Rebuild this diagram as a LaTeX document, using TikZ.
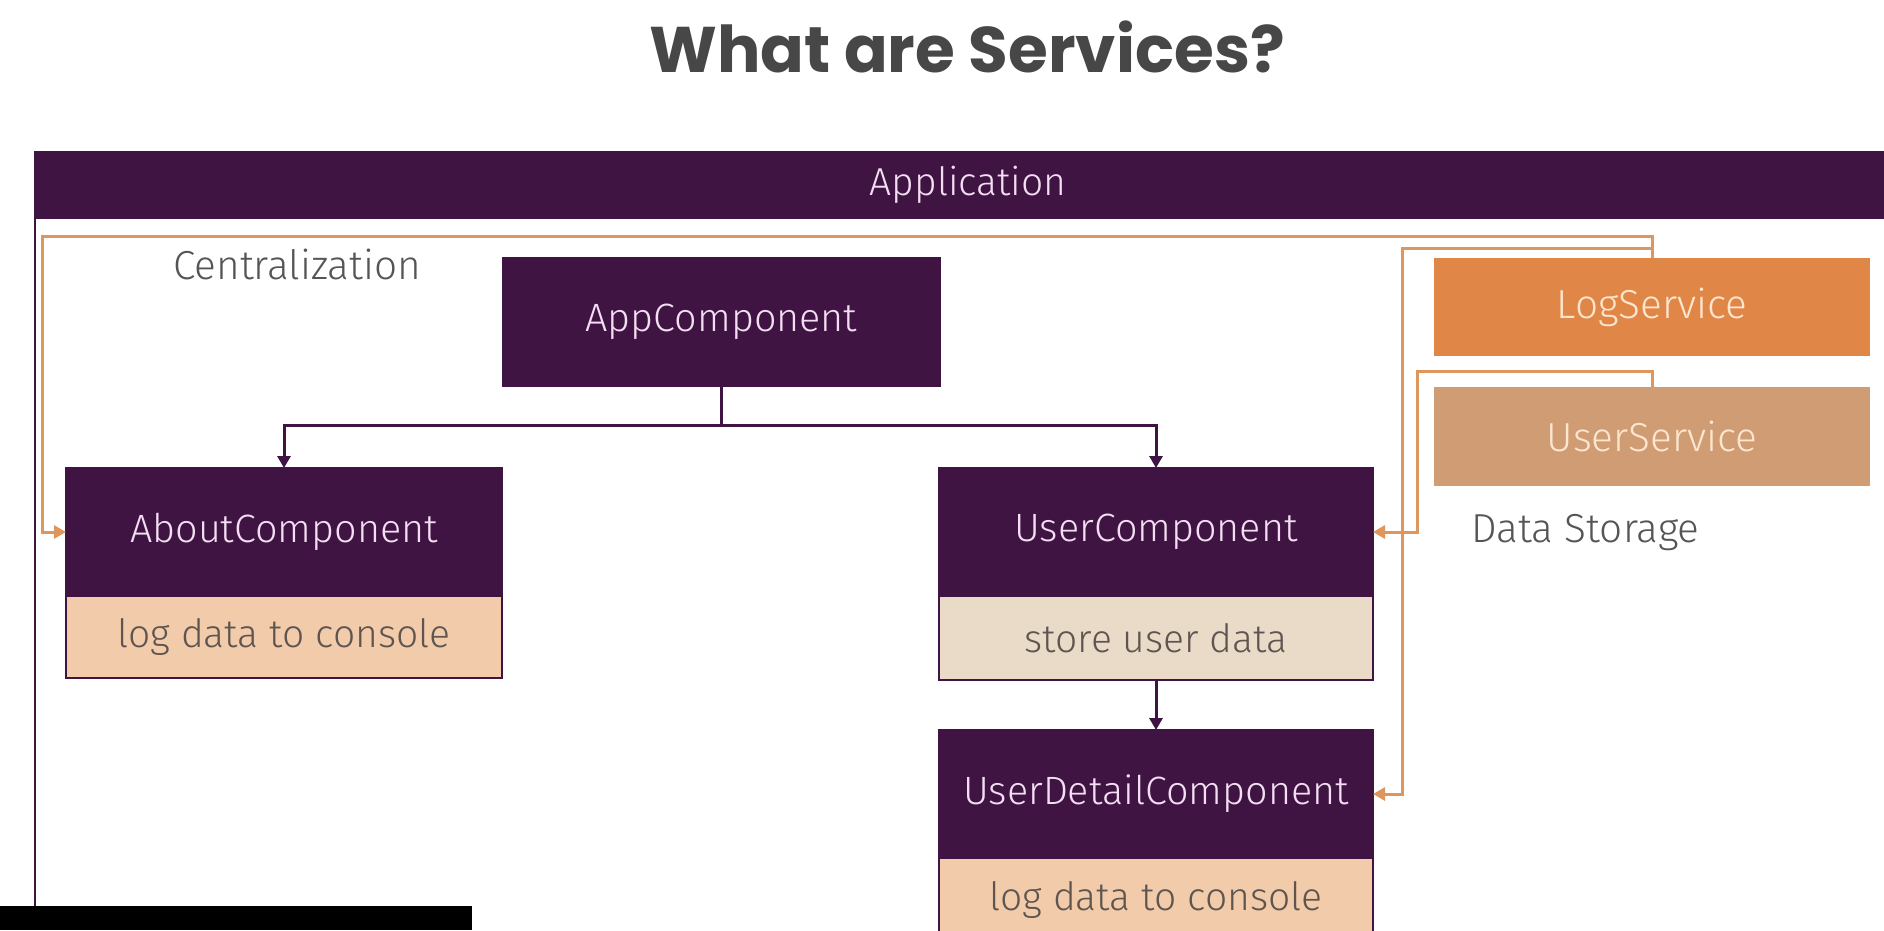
\documentclass[tikz,border=0pt]{standalone}
\usepackage{fontspec}
\setmainfont{Fira Sans}[UprightFont=* Light]
\newfontfamily\titlefont{Poppins}
\usetikzlibrary{arrows.meta}
\definecolor{purp}{RGB}{64,20,66}
\definecolor{comptext}{RGB}{243,222,243}
\definecolor{orline}{RGB}{222,150,92}
\definecolor{logfill}{RGB}{224,134,70}
\definecolor{userfill}{RGB}{208,156,116}
\definecolor{servtext}{RGB}{252,230,207}
\definecolor{peach}{RGB}{242,203,170}
\definecolor{beige}{RGB}{234,218,200}
\definecolor{subtext}{RGB}{94,85,80}
\definecolor{graytext}{RGB}{85,85,85}
\definecolor{titlegray}{RGB}{71,71,71}
\definecolor{overlay}{RGB}{30,31,33}
\begin{document}
\begin{tikzpicture}[x=1pt,y=-1pt,
  box/.style={anchor=north west, inner sep=0pt, outer sep=0pt, draw=purp, line width=1.2pt},
  comp/.style={box, fill=purp, text=comptext, minimum height=128pt, font=\fontsize{39.5}{42}\selectfont},
  task/.style={box, text=subtext, font=\fontsize{39}{42}\selectfont},
  serv/.style={box, draw=none, text=servtext, minimum width=436pt, font=\fontsize{40.5}{42}\selectfont},
  note/.style={anchor=base west, inner sep=0pt, text=graytext, font=\fontsize{40.5}{42}\selectfont},
  purpline/.style={draw=purp, line width=3pt, -{Triangle[length=12pt,width=13pt]}},
  orangeline/.style={draw=orline, line width=3pt, -{Triangle[length=12pt,width=13pt]}},
]
\clip (0,0) rectangle (1884,930);
\fill[white] (0,0) rectangle (1884,930);

% title
\node[anchor=base, inner sep=0pt, text=titlegray, font=\titlefont\bfseries\fontsize{64.5}{70}\selectfont] (title) at (967,72) {What are Services?};

% application frame
\node[box, fill=purp, text=comptext, minimum width=1866pt, minimum height=66pt, font=\fontsize{39}{42}\selectfont] (appbar) at (35,152) {Application};
\coordinate (framebottom) at (35,930);
\draw[draw=purp, line width=1.5pt] (appbar.south west) -- (framebottom);

% components
\node[comp, minimum width=437pt] (appc) at (503,258) {AppComponent};
\node[comp, minimum width=436pt] (about) at (66,468) {AboutComponent};
\node[task, fill=peach, minimum width=436pt, minimum height=82pt] (aboutlog) at (66,596) {log data to console};
\node[comp, minimum width=434pt] (user) at (939,468) {UserComponent};
\node[task, fill=beige, minimum width=434pt, minimum height=84pt] (userstore) at (939,596) {store user data};
\node[comp, minimum width=434pt] (udetail) at (939,730) {UserDetailComponent};
\node[task, fill=peach, minimum width=434pt, minimum height=84pt] (udetaillog) at (939,858) {log data to console};

% services
\node[serv, fill=logfill, minimum height=98pt] (logs) at (1434,258) {LogService};
\node[serv, fill=userfill, minimum height=99pt] (users) at (1434,387) {UserService};

% notes
\node[note] (central) at (173,279) {Centralization};
\node[note] (storage) at (1471,542) {Data Storage};

% component tree
\draw[purpline] (appc.south) -- ++(0,39) -| (about.north);
\draw[purpline] (appc.south) -- ++(0,39) -| (user.north);
\draw[purpline] (userstore.south) -- (udetail.north);

% service injection
\coordinate (bendA) at (42,236);
\coordinate (bendB) at (1402,248);
\coordinate (bendC) at (1417,371);
\draw[orangeline] (logs.north) |- (bendA) |- (about.west);
\draw[orangeline] (logs.north) |- (bendB) |- (udetail.east);
\draw[orangeline] (users.north) |- (bendC) |- (user.east);

% video overlay bar
\fill[overlay] (0,906) rectangle (472,930);
\end{tikzpicture}
\end{document}
